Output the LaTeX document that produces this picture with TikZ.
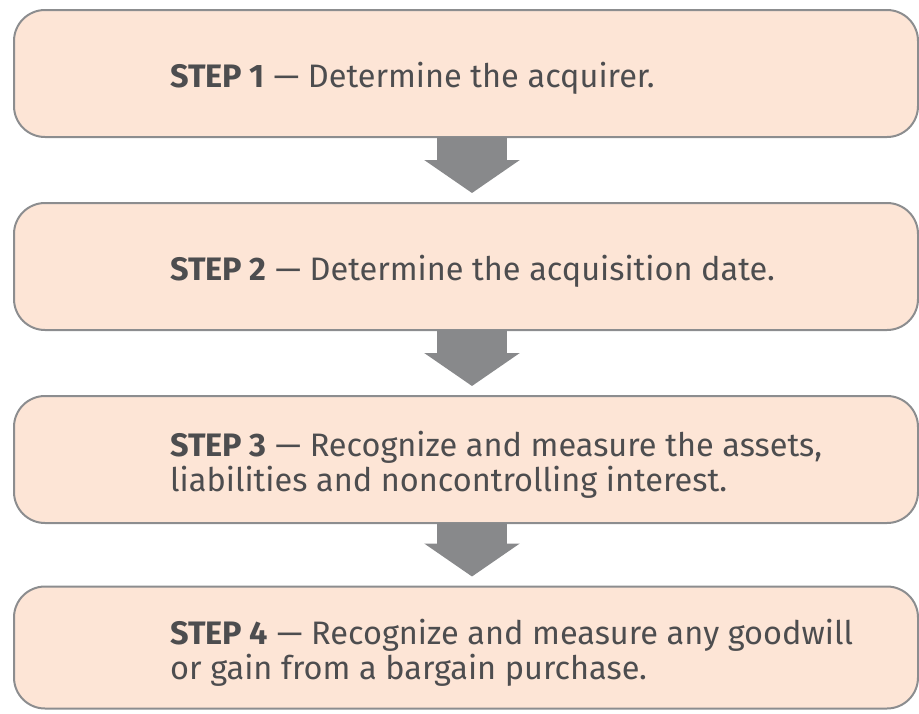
\documentclass[tikz,border=0pt]{standalone}
\usepackage{fontspec}
\setmainfont{Fira Sans}
\usetikzlibrary{arrows.meta,positioning}

\definecolor{stepfill}{HTML}{FDE5D6}
\definecolor{stepline}{HTML}{8C8D8F}
\definecolor{steptext}{HTML}{4D4D4F}
\definecolor{flowgray}{HTML}{88898B}

\begin{document}
\begin{tikzpicture}[
        stepbox/.style={draw=stepline, line width=2pt, fill=stepfill,
            rounded corners=31pt, minimum width=904pt, minimum height=127pt,
            outer sep=0pt},
        steplabel/.style={anchor=west, xshift=156pt, yshift=-5pt,
            inner sep=0pt, align=left, text=steptext,
            font=\fontsize{32.5}{35}\selectfont},
        flow/.style={draw=flowgray, line width=70pt,
            -{Triangle[width=94pt,length=33pt]}, shorten >=10pt},
        node distance=66pt,
    ]
    \useasboundingbox (0,0) rectangle (919pt,-713pt);

    % the four steps
    \node[stepbox, label={[steplabel]west:{\textbf{STEP 1} --- Determine the acquirer.}}]
        (s1) at (466pt,-73.5pt) {};
    \node[stepbox, below=of s1,
        label={[steplabel]west:{\textbf{STEP 2} --- Determine the acquisition date.}}]
        (s2) {};
    \node[stepbox, below=of s2,
        label={[steplabel]west:{\textbf{STEP 3} --- Recognize and measure the assets,\\
            liabilities and noncontrolling interest.}}]
        (s3) {};
    \node[stepbox, below=of s3, minimum height=122pt, yshift=2.5pt,
        label={[steplabel]west:{\textbf{STEP 4} --- Recognize and measure any goodwill\\
            or gain from a bargain purchase.}}]
        (s4) {};

    % block arrows between them
    \foreach \a/\b in {s1/s2, s2/s3, s3/s4}
        \draw[flow] ([xshift=6pt]\a.south) -- ([xshift=6pt]\b.north);
\end{tikzpicture}
\end{document}
